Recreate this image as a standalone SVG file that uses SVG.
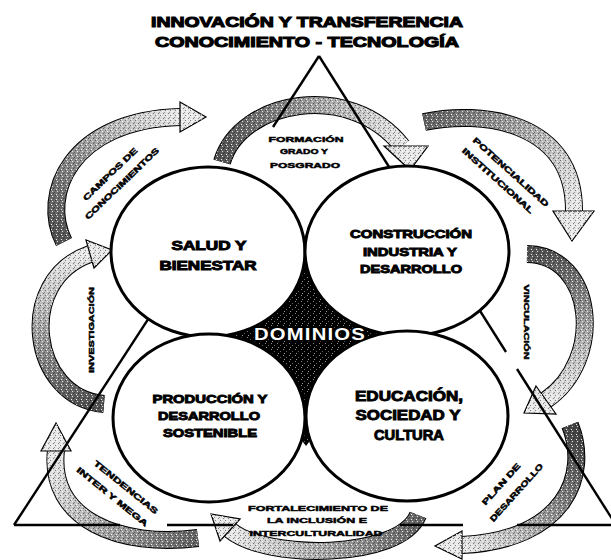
<svg xmlns="http://www.w3.org/2000/svg" xmlns:xlink="http://www.w3.org/1999/xlink" width="611" height="560" viewBox="0 0 611 560">
<style>
.t{font-family:"Liberation Sans",Arial,sans-serif;font-weight:bold;text-anchor:middle;fill:#000}
.title{font-size:15px;stroke:#000;stroke-width:1.1}
.c{font-size:12px;stroke:#000;stroke-width:.9}
.s{font-size:8px;stroke:#000;stroke-width:.5}
.dom{font-size:17px;fill:#fff;stroke:#000;stroke-width:3.5;paint-order:stroke;letter-spacing:1px}
.ol{fill:none;stroke:#000;stroke-width:18}
.bd{fill:none;stroke-width:16}
.gr{fill:none;stroke:url(#stip);stroke-width:16}
.hd{stroke:#000;stroke-width:1.2;stroke-linejoin:miter}
.hg{fill:url(#stip)}
.ln{stroke:#000;stroke-width:2.4;fill:none}
.node{fill:#fff;stroke:#000;stroke-width:3}
</style>
<defs>
<pattern id="stip" width="5" height="5" patternUnits="userSpaceOnUse">
<rect x="0" y="0" width="1" height="1" fill="#000" opacity=".45"/>
<rect x="2" y="1" width="1" height="1" fill="#fff" opacity=".8"/>
<rect x="3" y="3" width="1" height="1" fill="#000" opacity=".45"/>
<rect x="1" y="4" width="1" height="1" fill="#fff" opacity=".9"/>
<rect x="4" y="2" width="1" height="1" fill="#000" opacity=".35"/>
</pattern>
<pattern id="dots" width="6" height="6" patternUnits="userSpaceOnUse">
<rect x="1" y="1" width="1" height="1" fill="#888"/>
<rect x="4" y="3" width="1" height="1" fill="#666"/>
<rect x="2" y="5" width="1" height="1" fill="#999"/>
</pattern>
<linearGradient id="g1" gradientUnits="userSpaceOnUse" x1="64" y1="242" x2="180" y2="117"><stop offset="0" stop-color="#555"/><stop offset="1" stop-color="#e8e8e8"/></linearGradient>
<linearGradient id="g2" gradientUnits="userSpaceOnUse" x1="222" y1="162" x2="405" y2="150"><stop offset="0" stop-color="#555"/><stop offset="1" stop-color="#e8e8e8"/></linearGradient>
<linearGradient id="g3" gradientUnits="userSpaceOnUse" x1="424" y1="122" x2="574" y2="212"><stop offset="0" stop-color="#666"/><stop offset="1" stop-color="#e8e8e8"/></linearGradient>
<linearGradient id="g4" gradientUnits="userSpaceOnUse" x1="527" y1="254" x2="546" y2="400"><stop offset="0" stop-color="#555"/><stop offset="1" stop-color="#e8e8e8"/></linearGradient>
<linearGradient id="g5" gradientUnits="userSpaceOnUse" x1="570" y1="425" x2="462" y2="545"><stop offset="0" stop-color="#444"/><stop offset="1" stop-color="#e8e8e8"/></linearGradient>
<linearGradient id="g6" gradientUnits="userSpaceOnUse" x1="418" y1="515" x2="230" y2="530"><stop offset="0" stop-color="#666"/><stop offset="1" stop-color="#e8e8e8"/></linearGradient>
<linearGradient id="g7" gradientUnits="userSpaceOnUse" x1="198" y1="538" x2="56" y2="450"><stop offset="0" stop-color="#666"/><stop offset="1" stop-color="#e8e8e8"/></linearGradient>
<linearGradient id="g8" gradientUnits="userSpaceOnUse" x1="104" y1="404" x2="90" y2="254"><stop offset="0" stop-color="#555"/><stop offset="1" stop-color="#e8e8e8"/></linearGradient>
<path id="p1" d="M64 242 C40 195 70 120 180 117"/>
<path id="p2" d="M222 162 C240 100 350 80 402 146"/>
<path id="p3" d="M424 122 C480 110 575 120 574 212"/>
<path id="p4" d="M527 254 C595 255 605 360 546 400"/>
<path id="p5" d="M570 425 C590 475 565 540 462 545"/>
<path id="p6" d="M418 515 C400 560 265 560 230 530"/>
<path id="p7" d="M198 538 C120 548 48 520 56 450"/>
<path id="p8" d="M104 404 C30 398 15 280 90 254"/>
<polygon id="h1" points="180,102 180,132 206,117"/>
<polygon id="h2" points="384,146 428,146 410,170"/>
<polygon id="h3" points="553,211 594,211 572,241"/>
<polygon id="h4" points="536,386 556,414 524,413"/>
<polygon id="h5" points="462,531 462,559 435,546"/>
<polygon id="h6" points="240,519 220,541 211,514"/>
<polygon id="h7" points="41,451 71,451 56,423"/>
<polygon id="h8" points="86,240 94,268 112,250"/>
</defs>
<rect width="611" height="560" fill="#fff"/>

<g id="title">
<text class="t title" x="307" y="27" textLength="312" lengthAdjust="spacingAndGlyphs">INNOVACIÓN Y TRANSFERENCIA</text>
<text class="t title" x="307" y="47" textLength="304" lengthAdjust="spacingAndGlyphs">CONOCIMIENTO - TECNOLOGÍA</text>
</g>

<g id="arrows">
<g id="arrow-campos"><use href="#p1" class="ol"/><use href="#p1" class="bd" stroke="url(#g1)"/><use href="#p1" class="gr"/><use href="#h1" class="hd" fill="url(#g1)"/><use href="#h1" class="hg"/></g>
<g id="arrow-formacion"><use href="#p2" class="ol"/><use href="#p2" class="bd" stroke="url(#g2)"/><use href="#p2" class="gr"/><use href="#h2" class="hd" fill="url(#g2)"/><use href="#h2" class="hg"/></g>
<g id="arrow-potencialidad"><use href="#p3" class="ol"/><use href="#p3" class="bd" stroke="url(#g3)"/><use href="#p3" class="gr"/><use href="#h3" class="hd" fill="url(#g3)"/><use href="#h3" class="hg"/></g>
<g id="arrow-vinculacion"><use href="#p4" class="ol"/><use href="#p4" class="bd" stroke="url(#g4)"/><use href="#p4" class="gr"/><use href="#h4" class="hd" fill="url(#g4)"/><use href="#h4" class="hg"/></g>
<g id="arrow-plan"><use href="#p5" class="ol"/><use href="#p5" class="bd" stroke="url(#g5)"/><use href="#p5" class="gr"/><use href="#h5" class="hd" fill="url(#g5)"/><use href="#h5" class="hg"/></g>
<g id="arrow-fortalecimiento"><use href="#p6" class="ol"/><use href="#p6" class="bd" stroke="url(#g6)"/><use href="#p6" class="gr"/><use href="#h6" class="hd" fill="url(#g6)"/><use href="#h6" class="hg"/></g>
<g id="arrow-tendencias"><use href="#p7" class="ol"/><use href="#p7" class="bd" stroke="url(#g7)"/><use href="#p7" class="gr"/><use href="#h7" class="hd" fill="url(#g7)"/><use href="#h7" class="hg"/></g>
<g id="arrow-investigacion"><use href="#p8" class="ol"/><use href="#p8" class="bd" stroke="url(#g8)"/><use href="#p8" class="gr"/><use href="#h8" class="hd" fill="url(#g8)"/><use href="#h8" class="hg"/></g>
</g>

<g id="connectors">
<line class="ln" x1="319" y1="56" x2="273" y2="127"/>
<line class="ln" x1="244" y1="172" x2="14" y2="525"/>
<line class="ln" x1="319" y1="56" x2="506" y2="352"/>
<line class="ln" x1="517" y1="369" x2="616" y2="525"/>
<line class="ln" x1="14" y1="525" x2="120" y2="525"/>
<line class="ln" x1="167" y1="525" x2="233" y2="525"/>
<line class="ln" x1="400" y1="525" x2="463" y2="525"/>
<line class="ln" x1="517" y1="525" x2="616" y2="525"/>
</g>

<g id="dominios">
<polygon points="306,262 390,334 306,446 222,336" fill="#000"/>
<polygon points="306,262 390,334 306,446 222,336" fill="url(#dots)"/>
</g>

<g id="node-salud">
<ellipse class="node" cx="208" cy="252" rx="97" ry="85"/>
<text class="t c" x="209" y="250" textLength="75" lengthAdjust="spacingAndGlyphs">SALUD Y</text>
<text class="t c" x="208" y="270" textLength="97" lengthAdjust="spacingAndGlyphs">BIENESTAR</text>
</g>
<g id="node-construccion">
<ellipse class="node" cx="407" cy="251" rx="102" ry="85"/>
<text class="t c" x="411" y="238" textLength="122" lengthAdjust="spacingAndGlyphs" style="font-size:11px">CONSTRUCCIÓN</text>
<text class="t c" x="410" y="256" textLength="94" lengthAdjust="spacingAndGlyphs" style="font-size:11px">INDUSTRIA Y</text>
<text class="t c" x="411" y="273" textLength="102" lengthAdjust="spacingAndGlyphs" style="font-size:11px">DESARROLLO</text>
</g>
<g id="node-produccion">
<ellipse class="node" cx="209" cy="418" rx="96" ry="84"/>
<text class="t c" x="210" y="403" textLength="115" lengthAdjust="spacingAndGlyphs" style="font-size:11px">PRODUCCIÓN Y</text>
<text class="t c" x="209" y="420" textLength="102" lengthAdjust="spacingAndGlyphs" style="font-size:11px">DESARROLLO</text>
<text class="t c" x="210" y="437" textLength="94" lengthAdjust="spacingAndGlyphs" style="font-size:11px">SOSTENIBLE</text>
</g>
<g id="node-educacion">
<ellipse class="node" cx="407" cy="416" rx="101" ry="85"/>
<text class="t c" x="409" y="401" textLength="108" lengthAdjust="spacingAndGlyphs" style="font-size:14px">EDUCACIÓN,</text>
<text class="t c" x="408" y="420" textLength="105" lengthAdjust="spacingAndGlyphs" style="font-size:14px">SOCIEDAD Y</text>
<text class="t c" x="409" y="440" textLength="70" lengthAdjust="spacingAndGlyphs" style="font-size:14px">CULTURA</text>
</g>

<g id="dominios-label">
<text class="t dom" x="310" y="340" textLength="112" lengthAdjust="spacingAndGlyphs">DOMINIOS</text>
</g>

<g id="labels">
<g id="lbl-formacion">
<text class="t s" x="306" y="142" textLength="75" lengthAdjust="spacingAndGlyphs">FORMACIÓN</text>
<text class="t s" x="304" y="154" textLength="48" lengthAdjust="spacingAndGlyphs">GRADO Y</text>
<text class="t s" x="305" y="168" textLength="70" lengthAdjust="spacingAndGlyphs">POSGRADO</text>
</g>
<g id="lbl-campos" transform="translate(110 174) rotate(-44)">
<text class="t s" x="0" y="3" textLength="72" lengthAdjust="spacingAndGlyphs">CAMPOS DE</text>
<text class="t s" x="2" y="18" textLength="99" lengthAdjust="spacingAndGlyphs">CONOCIMIENTOS</text>
</g>
<g id="lbl-potencialidad" transform="translate(511 172) rotate(42)">
<text class="t s" x="0" y="3" textLength="99" lengthAdjust="spacingAndGlyphs">POTENCIALIDAD</text>
<text class="t s" x="-4" y="18" textLength="93" lengthAdjust="spacingAndGlyphs">INSTITUCIONAL</text>
</g>
<g id="lbl-investigacion" transform="translate(91 330) rotate(-90)">
<text class="t s" x="0" y="3" textLength="86" lengthAdjust="spacingAndGlyphs">INVESTIGACIÓN</text>
</g>
<g id="lbl-vinculacion" transform="translate(527 322) rotate(90)">
<text class="t s" x="0" y="3" textLength="75" lengthAdjust="spacingAndGlyphs">VINCULACIÓN</text>
</g>
<g id="lbl-tendencias" transform="translate(126 487) rotate(39)">
<text class="t s" x="0" y="3" textLength="80" lengthAdjust="spacingAndGlyphs">TENDENCIAS</text>
<text class="t s" x="-4.5" y="19" textLength="89" lengthAdjust="spacingAndGlyphs">INTER Y MEGA</text>
</g>
<g id="lbl-fortalecimiento">
<text class="t s" x="318" y="511" textLength="140" lengthAdjust="spacingAndGlyphs">FORTALECIMIENTO DE</text>
<text class="t s" x="317" y="523" textLength="100" lengthAdjust="spacingAndGlyphs">LA INCLUSIÓN E</text>
<text class="t s" x="316" y="536" textLength="133" lengthAdjust="spacingAndGlyphs">INTERCULTURALIDAD</text>
</g>
<g id="lbl-plan" transform="translate(501 484) rotate(-48)">
<text class="t s" x="0" y="3" textLength="53" lengthAdjust="spacingAndGlyphs">PLAN DE</text>
<text class="t s" x="4" y="20" textLength="75" lengthAdjust="spacingAndGlyphs">DESARROLLO</text>
</g>
</g>
</svg>
